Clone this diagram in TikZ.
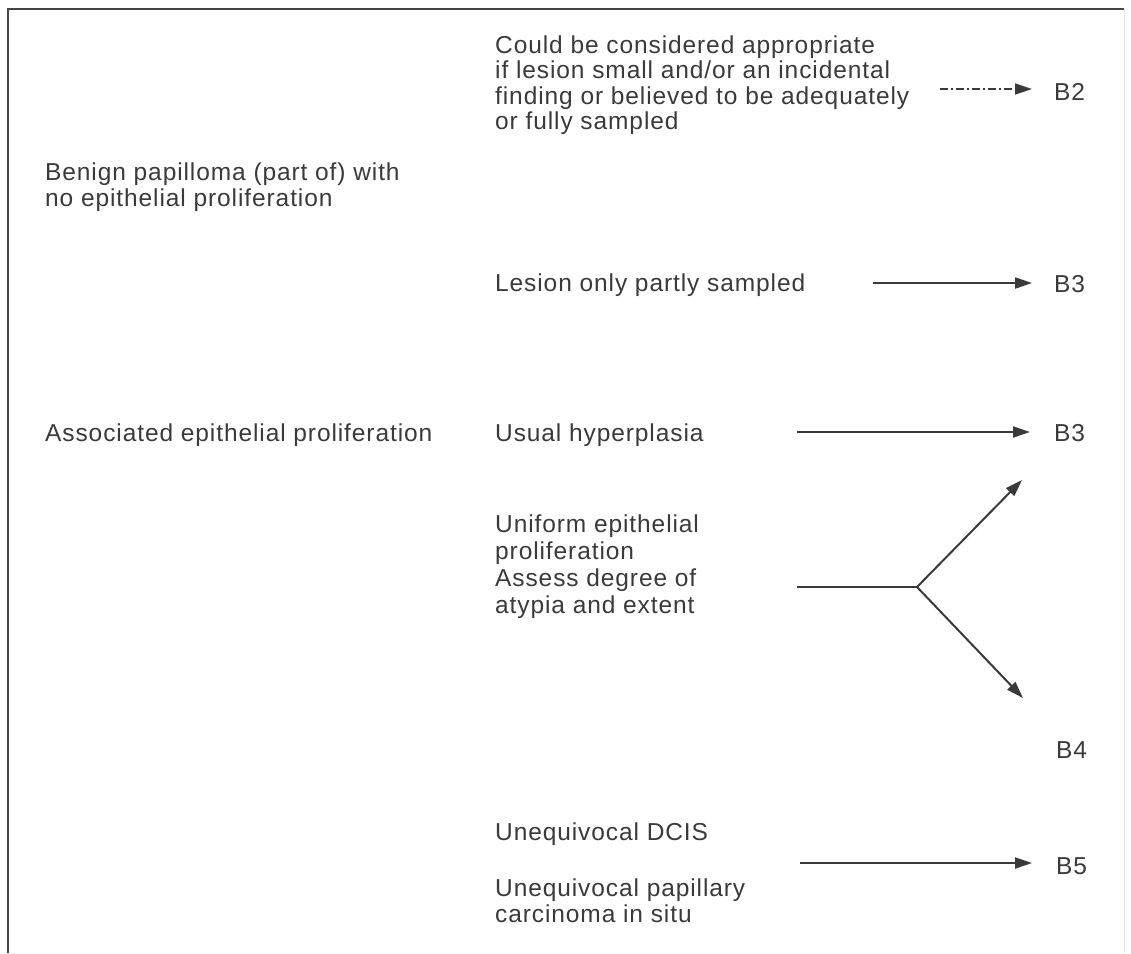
\documentclass[tikz,border=0pt]{standalone}
\usepackage{fontspec}
\setmainfont[LetterSpace=3.7]{Liberation Sans}
\usetikzlibrary{arrows.meta}
\definecolor{ink}{RGB}{58,58,58}
\definecolor{rule}{RGB}{70,70,70}
\begin{document}
\begin{tikzpicture}[x=1pt,y=-1pt,
  txt/.style={anchor=base west, inner sep=0pt, text=ink,
              font=\fontsize{24.5}{26}\selectfont},
  cat/.style={txt},
  arr/.style={draw=ink, line width=2pt, -{Triangle[length=17pt,width=11pt]}},
  dasharr/.style={arr, line width=1.6pt, dash pattern=on 8pt off 3pt on 2pt off 3pt},
  frameline/.style={draw=rule, line width=2.6pt}]
\useasboundingbox (0,0) rectangle (1131,953);

% frame, open at the bottom
\draw[frameline] (8,953) -- (8,9) -- (1124,9);
\draw[gray!20, line width=1pt] (1124,9) -- (1124,953);

% left column
\node[txt] (benign1) at (45,180) {Benign papilloma (part of) with};
\node[txt] (benign2) at (45,206) {no epithelial proliferation};
\node[txt] (assoc)   at (45,441) {Associated epithelial proliferation};

% middle column
\node[txt] (cons1) at (495,53)    {Could be considered appropriate};
\node[txt] (cons2) at (495,78.5)  {if lesion small and/or an incidental};
\node[txt] (cons3) at (495,104)   {finding or believed to be adequately};
\node[txt] (cons4) at (495,129.5) {or fully sampled};
\node[txt] (partly) at (495,291) {Lesion only partly sampled};
\node[txt] (usual)  at (495,441) {Usual hyperplasia};
\node[txt] (unif1) at (495,532) {Uniform epithelial};
\node[txt] (unif2) at (495,559) {proliferation};
\node[txt] (unif3) at (495,586) {Assess degree of};
\node[txt] (unif4) at (495,613) {atypia and extent};
\node[txt] (dcis)  at (495,840) {Unequivocal DCIS};
\node[txt] (pap1)  at (495,896) {Unequivocal papillary};
\node[txt] (pap2)  at (495,922) {carcinoma in situ};

% categories
\node[cat] (b2)  at (1054,100) {B2};
\node[cat] (b3a) at (1054,292) {B3};
\node[cat] (b3b) at (1054,441) {B3};
\node[cat] (b4)  at (1056,758) {B4};
\node[cat] (b5)  at (1056,874) {B5};

% connector ends
\coordinate (s2)  at (940,89);   \coordinate (e2)  at (1032,89);
\coordinate (s3a) at (873,283);  \coordinate (e3a) at (1032,283);
\coordinate (s3b) at (797,432);  \coordinate (e3b) at (1030,432);
\coordinate (su)  at (797,587);  \coordinate (fork) at (917,587);
\coordinate (eup) at (1022,480); \coordinate (edn) at (1023,698);
\coordinate (s5)  at (800,863);  \coordinate (e5)  at (1032,863);

\draw[dasharr] (s2) -- (e2);
\draw[arr] (s3a) -- (e3a);
\draw[arr] (s3b) -- (e3b);
\draw[draw=ink, line width=1.4pt] (su) -- (fork);
\draw[arr] (fork) -- (eup);
\draw[arr] (fork) -- (edn);
\draw[arr] (s5) -- (e5);
\end{tikzpicture}
\end{document}
